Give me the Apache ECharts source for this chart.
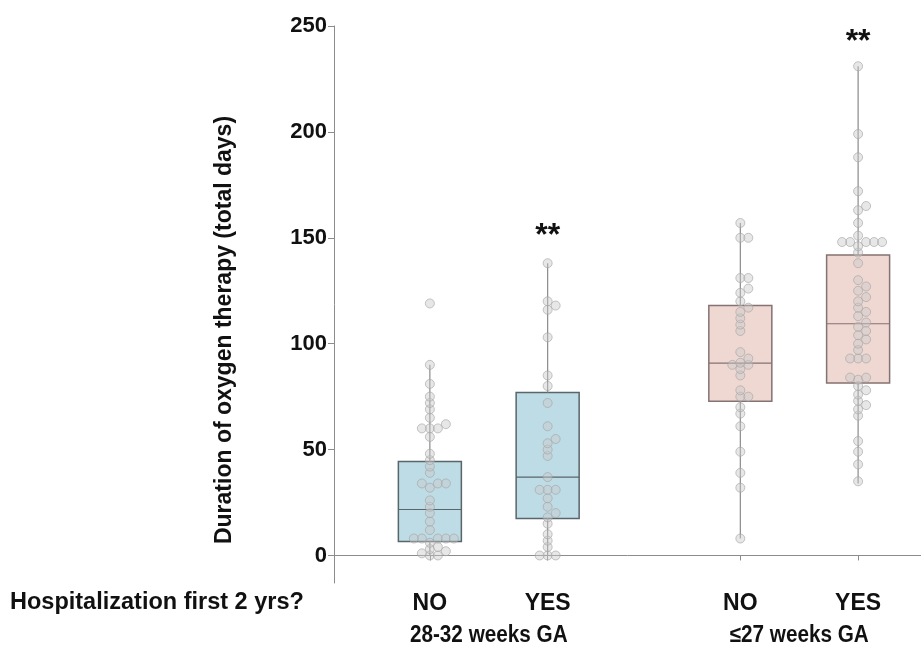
<!DOCTYPE html>
<html>
<head>
<meta charset="utf-8">
<script src="https://cdn.jsdelivr.net/npm/echarts@6/dist/echarts.min.js"></script>
<style>
  html, body { margin: 0; background: #fff; }
  #chart { width: 921px; height: 653px; }
</style>
</head>
<body>
<div id="chart"></div>
<script>
// categories
const groupNames = ['28-32 weeks GA', '≤27 weeks GA'];
const answerNames = ['NO', 'YES', 'NO', 'YES'];
const boxX = [1, 2, 3.636, 4.636];
const yTicks = [0, 50, 100, 150, 200, 250];
const starsAt = [[2, 152], [4.636, 244]];

// [min, Q1, median, Q3, max]
const boxStats = [
  [0, 6.6, 21.7, 44.4, 90],
  [0, 17.5, 37, 77, 138],
  [8, 72.8, 90.8, 118, 157],
  [34, 81.4, 109.4, 141.9, 231]
];

// individual patients, days of oxygen
const dots2832No = [119, 90, 81, 75, 72, 69, 65, 62, 60, 60, 60, 56, 48, 45, 42, 39, 34, 34, 34, 32,
  26, 23, 20, 16, 12, 8, 8, 8, 8, 8, 6, 4, 3, 2, 1, 0, 0];
const dots2832Yes = [138, 120, 118, 116, 103, 85, 80, 72, 61, 55, 53, 50, 47, 37, 31, 31, 31, 27,
  23, 20, 18, 15, 10, 7, 4, 0, 0, 0];
const dots27No = [157, 150, 150, 131, 131, 126, 124, 120, 117, 115, 112, 109, 106, 96, 93, 91, 90,
  90, 88, 85, 78, 75, 75, 70, 67, 61, 49, 39, 32, 8];
const dots27Yes = [231, 199, 188, 172, 165, 163, 157, 151, 148, 148, 148, 148, 148, 146, 143, 138,
  130, 127, 125, 122, 120, 117, 115, 113, 110, 108, 106, 104, 102, 100, 97, 93, 93, 93, 84, 84, 83,
  80, 78, 76, 73, 71, 69, 66, 54, 49, 43, 35];
const allDots = [dots2832No, dots2832Yes, dots27No, dots27Yes];

const boxFill = ['#bddce6', '#bddce6', '#f0d8d2', '#f0d8d2'];
const boxEdge = ['#5a6569', '#5a6569', '#857272', '#857272'];
const sans = 'Liberation Sans, Arial, sans-serif';

const chart = echarts.init(document.getElementById('chart'));

chart.setOption({
  animation: false,
  grid: {left: 334, right: 0, top: 26, bottom: 70},
  xAxis: {
    type: 'value', min: 0.186, max: 5.17,
    axisLine: {show: true, lineStyle: {color: '#8c8c8c'}},
    axisTick: {show: true, customValues: boxX, length: 5, lineStyle: {color: '#8c8c8c'}},
    axisLabel: {
      customValues: boxX, margin: 9,
      formatter: v => {
        let k = 0;
        boxX.forEach((b, i) => { if (Math.abs(b - v) < Math.abs(boxX[k] - v)) k = i; });
        return answerNames[k];
      },
      color: '#111', fontWeight: 'bold', fontSize: 23, fontFamily: sans
    },
    splitLine: {show: false}
  },
  yAxis: {
    type: 'value', min: -13, max: 250,
    axisLine: {show: true, lineStyle: {color: '#8c8c8c'}},
    axisTick: {show: true, customValues: yTicks, length: 6, lineStyle: {color: '#8c8c8c'}},
    axisLabel: {customValues: yTicks, margin: 7, color: '#111', fontWeight: 'bold', fontSize: 22, fontFamily: sans},
    splitLine: {show: false}
  },
  series: []
});

// pixel scale of the axes, used to keep dots from sitting exactly on top of each other
const pxY = chart.convertToPixel({yAxisIndex: 0}, 0) - chart.convertToPixel({yAxisIndex: 0}, 1);
const pxX = chart.convertToPixel({xAxisIndex: 0}, 1) - chart.convertToPixel({xAxisIndex: 0}, 0);

function swarm(values, center) {
  const placed = [];
  const step = 8, minD = 4.5;
  values.slice().sort((a, b) => a - b).forEach(v => {
    for (let k = 0; k < 20; k++) {
      const off = (k % 2 ? 1 : -1) * Math.ceil(k / 2) * step;
      const ok = placed.every(p => Math.hypot(p.dx - off, (p.v - v) * pxY) >= minD);
      if (ok) { placed.push({v: v, dx: off}); break; }
    }
  });
  return placed.map(p => [center + p.dx / pxX, p.v]);
}

const dotData = [];
allDots.forEach((vals, i) => swarm(vals, boxX[i]).forEach(d => dotData.push(d)));

const boxData = boxStats.map((s, i) => [boxX[i]].concat(s, [i]));

chart.setOption({
  series: [{
    type: 'custom',
    data: boxData,
    z: 2,
    renderItem: (params, api) => {
      const x = api.value(0), idx = api.value(6);
      const lo = api.coord([x, api.value(1)]);
      const q1 = api.coord([x, api.value(2)]);
      const md = api.coord([x, api.value(3)]);
      const q3 = api.coord([x, api.value(4)]);
      const hi = api.coord([x, api.value(5)]);
      const hw = 31.5;
      return {
        type: 'group',
        children: [
          {type: 'rect', shape: {x: q1[0] - hw, y: q3[1], width: hw * 2, height: q1[1] - q3[1]},
            style: {fill: boxFill[idx], stroke: boxEdge[idx], lineWidth: 1.5}},
          {type: 'line', shape: {x1: md[0] - hw, y1: md[1], x2: md[0] + hw, y2: md[1]},
            style: {stroke: boxEdge[idx], lineWidth: 1.2}},
          {type: 'line', shape: {x1: hi[0], y1: hi[1], x2: q3[0], y2: q3[1]},
            style: {stroke: '#8a8a8a', lineWidth: 1.2}},
          {type: 'line', shape: {x1: lo[0], y1: lo[1], x2: q1[0], y2: q1[1]},
            style: {stroke: '#8a8a8a', lineWidth: 1.2}}
        ]
      };
    }
  }, {
    type: 'scatter',
    data: dotData,
    z: 3,
    symbolSize: 9,
    itemStyle: {color: 'rgba(200,200,200,0.55)', borderColor: '#a4a4a4', borderWidth: 0.8}
  }]
});

// titles and annotations placed through the axis scales
const yBottom = chart.convertToPixel({yAxisIndex: 0}, -13);
const texts = [
  {type: 'text', x: 10, y: yBottom + 20,
    style: {text: 'Hospitalization first 2 yrs?', font: 'bold 23.5px ' + sans, fill: '#111', verticalAlign: 'middle'}},
  {type: 'text', x: 225, y: 330, rotation: Math.PI / 2,
    style: {text: 'Duration of oxygen therapy (total days)', font: 'bold 23px ' + sans, fill: '#111',
      align: 'center', verticalAlign: 'middle'}}
];
groupNames.forEach((g, i) => {
  const cx = chart.convertToPixel({xAxisIndex: 0}, (boxX[2 * i] + boxX[2 * i + 1]) / 2);
  texts.push({type: 'text', x: cx, y: yBottom + 53, scaleX: 0.9,
    style: {text: g, font: 'bold 23px ' + sans, fill: '#111', align: 'center', verticalAlign: 'middle'}});
});
starsAt.forEach(s => {
  const p = chart.convertToPixel({gridIndex: 0}, s);
  texts.push({type: 'text', x: p[0], y: p[1] + 3,
    style: {text: '**', font: 'bold 32px ' + sans, fill: '#111', align: 'center', verticalAlign: 'middle'}});
});
chart.setOption({graphic: texts});
</script>
</body>
</html>
